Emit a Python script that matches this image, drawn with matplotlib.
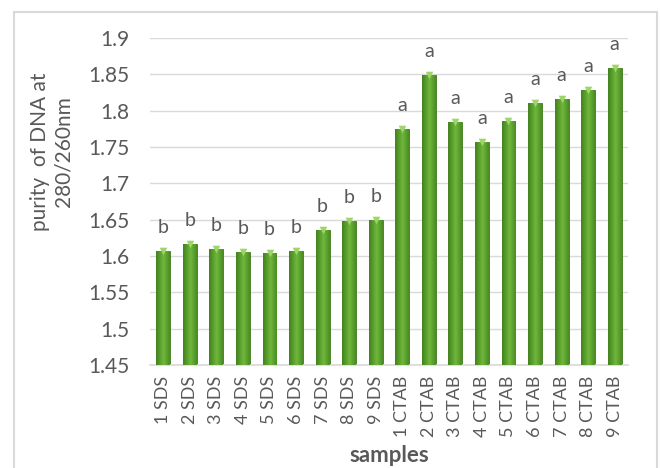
import matplotlib
matplotlib.use("Agg")
import matplotlib.pyplot as plt
import numpy as np
from matplotlib.patches import Rectangle
from matplotlib.colors import LinearSegmentedColormap

categories = ["1 SDS", "2 SDS", "3 SDS", "4 SDS", "5 SDS", "6 SDS", "7 SDS", "8 SDS", "9 SDS",
              "1 CTAB", "2 CTAB", "3 CTAB", "4 CTAB", "5 CTAB", "6 CTAB", "7 CTAB", "8 CTAB", "9 CTAB"]
values = [1.607, 1.617, 1.609, 1.605, 1.604, 1.607, 1.636, 1.648, 1.649,
          1.775, 1.849, 1.784, 1.757, 1.786, 1.810, 1.816, 1.828, 1.859]
letters = ["b"] * 9 + ["a"] * 9
yticks = [1.45, 1.5, 1.55, 1.6, 1.65, 1.7, 1.75, 1.8, 1.85, 1.9]

plt.rcParams['font.family'] = ['Lato', 'DejaVu Sans']
txt = "#595959"

fig = plt.figure(figsize=(6.6, 4.68), dpi=100)
ax = fig.add_axes([150/660, 1-365/468, (628-150)/660, (365-38)/468])

x = np.arange(len(categories))
bars = ax.bar(x, [v - 1.45 for v in values], bottom=1.45, width=0.52,
              color="#5a9e2c", edgecolor="#3d7a1c", linewidth=0.6, zorder=2)

# horizontal gradient inside each bar
grad = np.linspace(0, 1, 64)
prof = np.clip(1 - np.abs(grad - 0.55) * 1.6, 0, 1)
cmap = LinearSegmentedColormap.from_list("g", ["#3b7a1a", "#6fb83c"])
img = np.tile(prof, (2, 1))
for b in bars:
    x0, y0 = b.get_x(), b.get_y()
    w, h = b.get_width(), b.get_height()
    im = ax.imshow(img, cmap=cmap, vmin=0, vmax=1, extent=[x0, x0 + w, y0, y0 + h],
                   aspect='auto', zorder=3, interpolation='bicubic')
    im.set_clip_path(b)

# small triangle at the top of each bar
ax.scatter(x, values, marker='v', s=30, color="#9ed56b", zorder=4, linewidths=0, clip_on=False)

for xi, v, l in zip(x, values, letters):
    ax.annotate(l, (xi, v), xytext=(0, 17), textcoords='offset points',
                ha='center', va='center', fontsize=14, color=txt)

ax.set_xlim(-0.5, len(categories) - 0.5)
ax.set_ylim(1.45, 1.9)
ax.set_yticks(yticks)
ax.set_yticklabels([f"{t:g}" for t in yticks], fontsize=15, color=txt)
ax.set_xticks(x)
ax.set_xticklabels(categories, rotation=90, fontsize=13, color=txt)
ax.tick_params(axis='y', length=0, pad=15)
ax.tick_params(axis='x', length=0, pad=8)
ax.yaxis.grid(True, color="#d9d9d9", linewidth=1, zorder=0)
ax.set_axisbelow(True)
for s in ['left', 'right', 'top']:
    ax.spines[s].set_visible(False)
ax.spines['bottom'].set_color("#d9d9d9")
ax.spines['bottom'].set_linewidth(1.2)

fig.text(52/660, 1-152/468, "purity  of DNA at\n280/260nm", rotation=90, ha='center', va='center',
         fontsize=15, color=txt, linespacing=1.25)
fig.text(389/660, 1-455/468, "samples", ha='center', va='center', fontsize=16,
         fontweight='bold', color=txt)

fig.patches.append(Rectangle((14/660, -0.05), (657-14)/660, 1.05 - 12/468,
                             transform=fig.transFigure, fill=False,
                             edgecolor="#d9d9d9", linewidth=1.5))

fig.savefig("out.png", dpi=100)
